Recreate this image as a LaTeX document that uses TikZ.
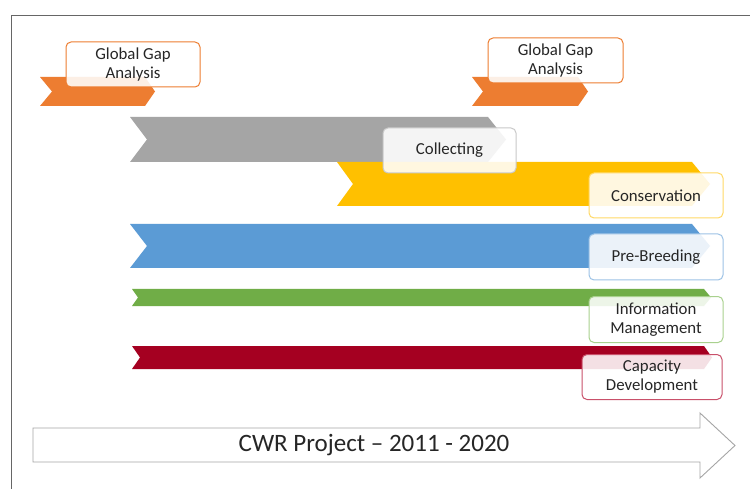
\documentclass[tikz,border=0pt]{standalone}
\usepackage{fontspec}
\setmainfont{Carlito}
\definecolor{cOrange}{HTML}{ED7D31}
\definecolor{cGray}{HTML}{A5A5A5}
\definecolor{cYellow}{HTML}{FFC000}
\definecolor{cBlue}{HTML}{5B9BD5}
\definecolor{cGreen}{HTML}{70AD47}
\definecolor{cRed}{HTML}{A50021}
\definecolor{bOrange}{HTML}{F4B183}
\definecolor{bGray}{HTML}{C9C9C9}
\definecolor{bYellow}{HTML}{FFD966}
\definecolor{bBlue}{HTML}{9DC3E6}
\definecolor{bGreen}{HTML}{A9D18E}
\definecolor{bRed}{HTML}{C9506A}
\definecolor{txt}{HTML}{262626}
\begin{document}
\begin{tikzpicture}[x=1pt,y=-1pt,
  lbl/.style={draw=#1, rounded corners=5pt, fill=white, fill opacity=0.88, text opacity=1,
    line width=1pt, align=center, inner sep=0pt, text=txt,
    font=\fontsize{16.8}{19}\selectfont},
  frameline/.style={draw=gray!80!black, line width=0.9pt},
  chev/.style={fill=#1, draw=none}]
\useasboundingbox (0,0) rectangle (750,489);
\fill[white] (0,0) rectangle (750,489);
% frame
\draw[frameline] (11,489) -- (11,15) -- (750,15);
% chevrons
\path[chev=cOrange] (40,77) -- (145,77) -- (155,91.5) -- (145,106) -- (40,106) -- (52,91.5) -- cycle;
\path[chev=cOrange] (472,77) -- (578,77) -- (588,91.5) -- (578,106) -- (472,106) -- (483,91.5) -- cycle;
\path[chev=cGray] (130,117) -- (488,117) -- (506,139.5) -- (488,162) -- (130,162) -- (147,139.5) -- cycle;
\path[chev=cYellow] (337,162) -- (692,162) -- (710,184) -- (692,206) -- (337,206) -- (353,184) -- cycle;
\path[chev=cBlue] (130,224) -- (692,224) -- (710,246) -- (692,268) -- (130,268) -- (147,246) -- cycle;
\path[chev=cGreen] (132,289) -- (704,289) -- (711,297.5) -- (704,306) -- (132,306) -- (138,297.5) -- cycle;
\path[chev=cRed] (132,346) -- (704,346) -- (712,357.5) -- (704,369) -- (132,369) -- (140,357.5) -- cycle;
% labels
\node[lbl=cOrange, minimum width=134pt, minimum height=45pt] (gga1) at (133,64.5) {Global Gap\\Analysis};
\node[lbl=cOrange, minimum width=135pt, minimum height=45pt] (gga2) at (555.5,60.5) {Global Gap\\Analysis};
\node[lbl=bGray, minimum width=133pt, minimum height=45pt] (coll) at (449.5,150.5) {Collecting};
\node[lbl=bYellow, minimum width=134pt, minimum height=45pt] (cons) at (656,195.5) {Conservation};
\node[lbl=bBlue, minimum width=134pt, minimum height=46pt] (preb) at (656,257) {Pre-Breeding};
\node[lbl=bGreen, minimum width=134pt, minimum height=46pt] (info) at (656,319.5) {Information\\Management};
\node[lbl=bRed, minimum width=140pt, minimum height=45pt] (cap) at (652,377) {Capacity\\Development};
% project arrow
\draw[draw=cGray, fill=white, line width=0.9pt] (33,428) -- (700,428) -- (700,413) -- (735,445.5) -- (700,478) -- (700,462) -- (33,462) -- cycle;
\node[text=txt, font=\fontsize{25}{29}\selectfont, inner sep=0pt] (cwr) at (374,445) {CWR Project -- 2011 - 2020};
\end{tikzpicture}
\end{document}
